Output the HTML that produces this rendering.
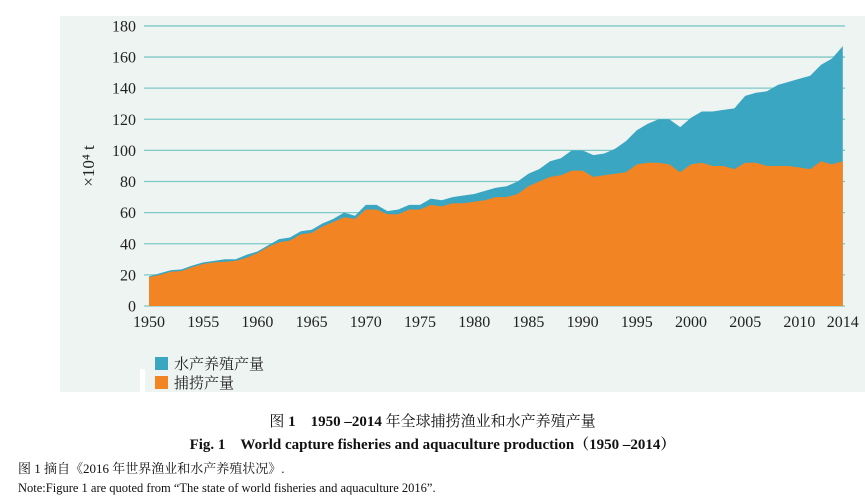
<!DOCTYPE html>
<html><head><meta charset="utf-8"><style>
body{margin:0;background:#fff;width:865px;height:500px;overflow:hidden;position:relative;font-family:"Liberation Serif","Noto Serif CJK SC",serif;}
.t{position:absolute;white-space:nowrap;color:#111;}
</style></head><body>
<svg id="s" width="865" height="500" style="position:absolute;left:0;top:0" font-family="Liberation Serif, Noto Serif CJK SC, serif">
<rect x="60" y="16" width="805" height="376" fill="#edf4f2"/>
<g id="g"></g>
</svg>
<div class="t" style="left:0;width:865px;text-align:center;top:410px;font-size:15px;font-family:'Liberation Serif','Noto Serif CJK SC',serif">图 <b>1</b>　<b>1950 –2014</b> 年全球捕捞渔业和水产养殖产量</div>
<div class="t" style="left:0;width:865px;text-align:center;top:433px;font-size:15px;font-weight:bold">Fig. 1　World capture fisheries and aquaculture production（1950 –2014）</div>
<div class="t" style="left:18px;top:458px;font-size:13px">图 1 摘自《2016 年世界渔业和水产养殖状况》.</div>
<div class="t" style="left:18px;top:481px;font-size:12.5px">Note:Figure 1 are quoted from “The state of world fisheries and aquaculture 2016”.</div>
<script>
var d=[[1950,19,18.5],[1951,21,20],[1952,23,22],[1953,23.5,22.5],[1954,26,25],[1955,28,27],[1956,29,28],[1957,30,28.5],[1958,30,29],[1959,33,31],[1960,35,34],[1961,39,38],[1962,43,41],[1963,44,42],[1964,48,46],[1965,49,47],[1966,53,51],[1967,56,54],[1968,60,57],[1969,58,56],[1970,65,62],[1971,65,62],[1972,61,59],[1973,62,59],[1974,65,62],[1975,65,62],[1976,69,65],[1977,68,64],[1978,70,66],[1979,71,66],[1980,72,67],[1981,74,68],[1982,76,70],[1983,77,70],[1984,80,72],[1985,85,77],[1986,88,80],[1987,93,83],[1988,95,84],[1989,100,87],[1990,100,87],[1991,97,83],[1992,98,84],[1993,101,85],[1994,106,86],[1995,113,91],[1996,117,92],[1997,120,92],[1998,120,91],[1999,115,86],[2000,121,91],[2001,125,92],[2002,125,90],[2003,126,90],[2004,127,88],[2005,135,92],[2006,137,92],[2007,138,90],[2008,142,90],[2009,144,90],[2010,146,89],[2011,148,88],[2012,155,93],[2013,159,91],[2014,167,93]];
function X(y){return 149+(y-1950)*10.84}function Y(v){return 306-v*1.556}
var h='';
for(var i=0;i<=9;i++){var y=Y(i*20);h+='<line x1="144" x2="845" y1="'+y+'" y2="'+y+'" stroke="#7ec8c6" stroke-width="1.3"/>';h+='<text x="136" y="'+(y+5.5)+'" font-size="16" text-anchor="end" fill="#222">'+(i*20)+'</text>';}
function area(k){var p='M'+X(1950)+','+Y(0);d.forEach(function(r){p+=' L'+X(r[0]).toFixed(1)+','+Y(r[k]).toFixed(1)});return p+' L'+X(2014)+','+Y(0)+'Z';}
h+='<path d="'+area(1)+'" fill="#3aa6c2"/><path d="'+area(2)+'" fill="#f28424"/>';
[1950,1955,1960,1965,1970,1975,1980,1985,1990,1995,2000,2005,2010,2014].forEach(function(y){h+='<text x="'+X(y)+'" y="327" font-size="16" text-anchor="middle" fill="#222">'+y+'</text>'});
h+='<text transform="translate(94,166) rotate(-90)" font-size="17" text-anchor="middle" fill="#222">×10⁴ t</text>';
h+='<rect x="155" y="357" width="13" height="13" fill="#3aa6c2"/><rect x="155" y="376" width="13" height="13" fill="#f28424"/>';
h+='<rect x="140" y="369" width="5" height="23" fill="#fff"/>';
h+='<text x="174" y="369" font-size="15" fill="#222">水产养殖产量</text><text x="174" y="388" font-size="15" fill="#222">捕捞产量</text>';
document.getElementById('g').innerHTML=h;
</script>
</body></html>
